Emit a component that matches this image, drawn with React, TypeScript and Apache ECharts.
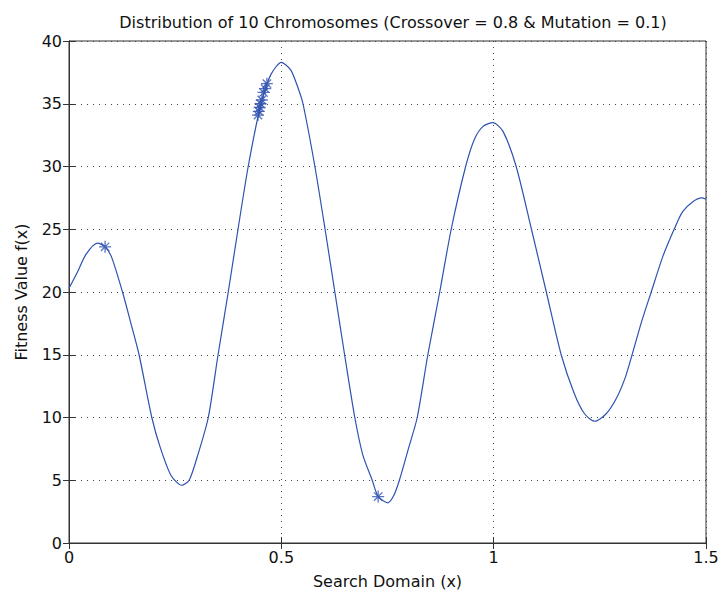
import React, { useEffect, useRef } from "react";
import * as echarts from "echarts";

const titleText = "Distribution of 10 Chromosomes (Crossover = 0.8 & Mutation = 0.1)";
const xAxisName = "Search Domain (x)";
const yAxisName = "Fitness Value f(x)";

// fitness curve (grid-line crossings and extremes)
const curveX = [0, 0.02, 0.04, 0.067, 0.085, 0.1, 0.126, 0.145, 0.165, 0.195, 0.215, 0.24, 0.265, 0.283, 0.305, 0.328, 0.351, 0.375, 0.398, 0.422, 0.452, 0.475, 0.5, 0.522, 0.54, 0.551, 0.579, 0.603, 0.626, 0.649, 0.673, 0.692, 0.714, 0.728, 0.751, 0.765, 0.778, 0.8, 0.82, 0.845, 0.873, 0.9, 0.934, 0.955, 0.975, 0.998, 1.022, 1.053, 1.089, 1.124, 1.159, 1.19, 1.214, 1.238, 1.265, 1.29, 1.31, 1.326, 1.348, 1.371, 1.398, 1.425, 1.445, 1.469, 1.49, 1.5];
const curveY = [20.3, 21.6, 23.0, 23.9, 23.6, 22.8, 20.0, 17.6, 15.0, 10.0, 7.6, 5.4, 4.6, 5.0, 7.2, 10.0, 15.0, 20.0, 25.0, 30.0, 35.0, 37.3, 38.3, 37.7, 36.2, 35.0, 30.0, 25.0, 20.0, 15.0, 10.0, 7.0, 5.0, 3.7, 3.2, 3.8, 5.0, 7.6, 10.0, 15.0, 20.0, 25.0, 30.0, 32.2, 33.2, 33.5, 32.8, 30.0, 25.0, 20.0, 15.0, 11.9, 10.3, 9.7, 10.3, 11.6, 13.2, 15.0, 17.6, 20.0, 22.8, 25.0, 26.4, 27.2, 27.5, 27.4];

// chromosome positions
const chromX = [0.085, 0.445, 0.447, 0.449, 0.451, 0.454, 0.458, 0.462, 0.466, 0.728];
const chromY = [23.6, 34.1, 34.4, 34.7, 35.0, 35.3, 35.9, 36.2, 36.6, 3.7];

const BLUE = "#2f52b0";
const AXIS = "#333333";
const FONT = "DejaVu Sans, Liberation Sans, Arial, sans-serif";

export default function App() {
  const ref = useRef<HTMLDivElement>(null);
  useEffect(() => {
    if (!ref.current) return;
    const chart = echarts.init(ref.current, null, { renderer: "svg" });
    const curve = curveX.map((x, i) => [x, curveY[i]]);
    const chrom = chromX.map((x, i) => [x, chromY[i]]);
    const splitLine = { show: true, lineStyle: { color: "#444", type: [1, 5] as any, width: 1 } };
    chart.setOption({
      animation: false,
      backgroundColor: "#ffffff",
      title: {
        text: titleText,
        left: 388,
        textAlign: "center",
        top: 9,
        textStyle: { fontFamily: FONT, fontSize: 16, fontWeight: "normal", color: "#111" },
      },
      grid: { left: 69, right: 16, top: 41, bottom: 57, show: true, borderColor: AXIS, borderWidth: 1 },
      xAxis: [
        {
          type: "value", min: 0, max: 1.5, interval: 0.5, position: "bottom",
          name: xAxisName, nameLocation: "middle", nameGap: 30,
          nameTextStyle: { fontFamily: FONT, fontSize: 16, color: "#111" },
          axisLine: { show: true, lineStyle: { color: AXIS } },
          axisTick: { show: true, inside: true, length: 6, lineStyle: { color: AXIS } },
          axisLabel: { fontFamily: FONT, fontSize: 16, color: "#111", margin: 6 },
          splitLine,
        },
        {
          type: "value", min: 0, max: 1.5, interval: 0.5, position: "top",
          axisLine: { show: true, lineStyle: { color: AXIS } },
          axisTick: { show: true, inside: true, length: 6, lineStyle: { color: AXIS } },
          axisLabel: { show: false },
          splitLine: { show: false },
        },
      ],
      yAxis: [
        {
          type: "value", min: 0, max: 40, interval: 5, position: "left",
          name: yAxisName, nameLocation: "middle", nameGap: 40,
          nameTextStyle: { fontFamily: FONT, fontSize: 16, color: "#111" },
          axisLine: { show: true, lineStyle: { color: AXIS } },
          axisTick: { show: true, inside: true, length: 6, lineStyle: { color: AXIS } },
          axisLabel: { fontFamily: FONT, fontSize: 16, color: "#111", margin: 7 },
          splitLine,
        },
        {
          type: "value", min: 0, max: 40, interval: 5, position: "right",
          axisLine: { show: true, lineStyle: { color: AXIS } },
          axisTick: { show: true, inside: true, length: 6, lineStyle: { color: AXIS } },
          axisLabel: { show: false },
          splitLine: { show: false },
        },
      ],
      series: [
        {
          type: "line",
          data: curve,
          smooth: 0.25,
          showSymbol: false,
          lineStyle: { color: BLUE, width: 1.2 },
          z: 2,
        },
        {
          type: "scatter",
          data: chrom,
          symbol: "path://M5 0 L5 10 M0 5 L10 5 M1.5 1.5 L8.5 8.5 M8.5 1.5 L1.5 8.5",
          symbolSize: 12,
          itemStyle: { color: "rgba(0,0,0,0)", borderColor: BLUE, borderWidth: 1.3 },
          z: 3,
        },
      ],
    });
    return () => chart.dispose();
  }, []);
  return <div ref={ref} style={{ position: "fixed", left: 0, top: 0, width: 722, height: 600, background: "#fff" }} />;
}
